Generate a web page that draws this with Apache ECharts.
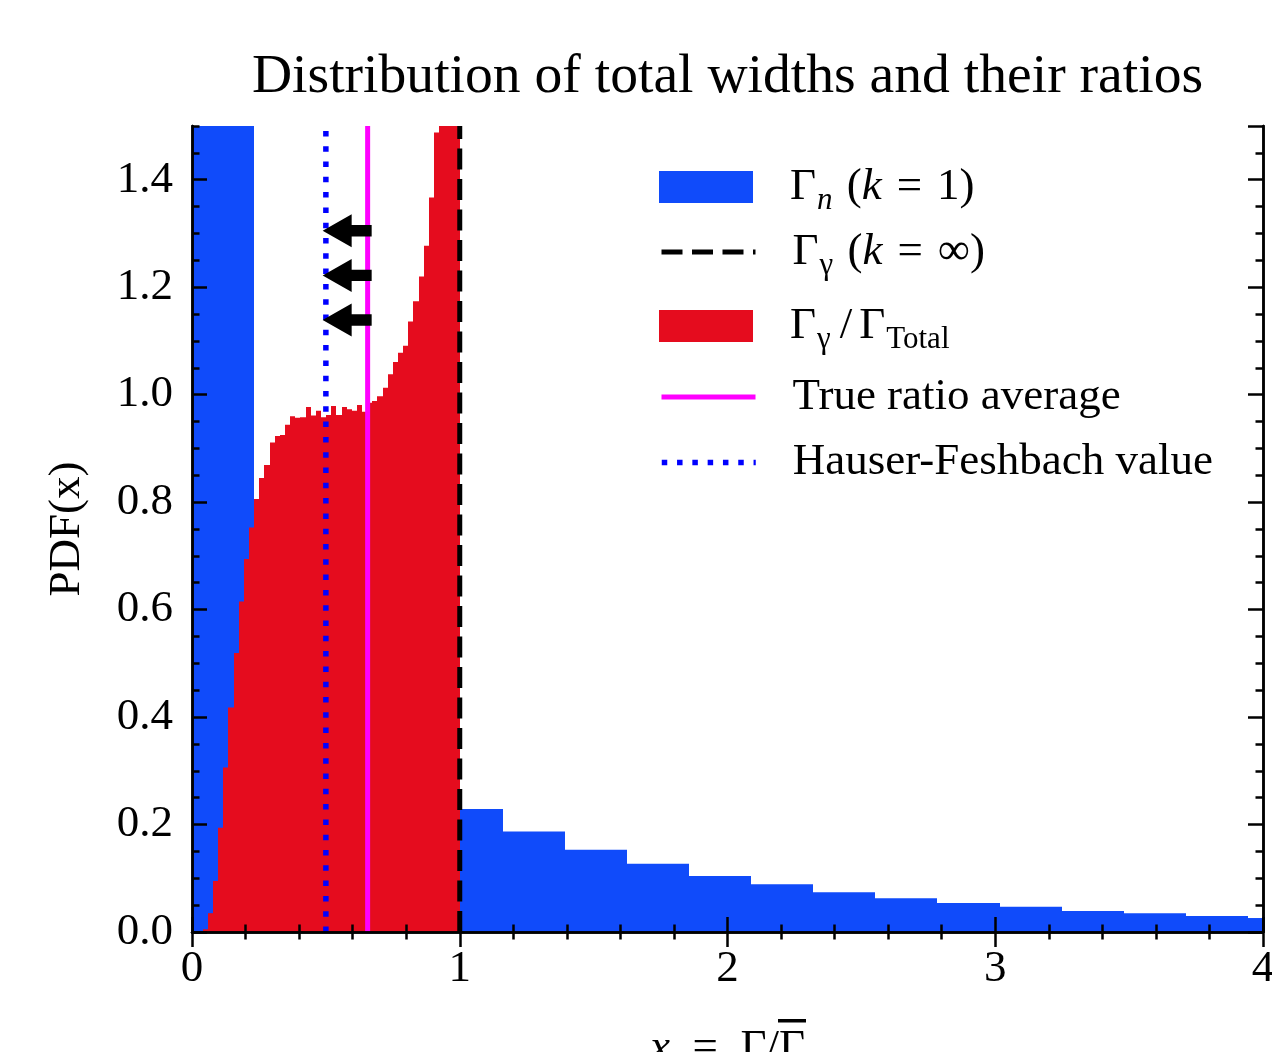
<!DOCTYPE html>
<html>
<head>
<meta charset="utf-8">
<script src="https://cdn.jsdelivr.net/npm/echarts@6/dist/echarts.min.js"></script>
<style>
  html, body { margin: 0; padding: 0; background: #fff; }
  #chart { width: 1272px; height: 1052px; }
</style>
</head>
<body>
<div id="chart"></div>
<script>
// Gamma_n (k=1): bins of 0.232 starting at 0, first bin runs off the top
const nBinWidth = 0.232;
const nHeights = [1.6, 0.58, 0.40, 0.30, 0.229, 0.187, 0.153, 0.127, 0.104, 0.089,
  0.074, 0.063, 0.054, 0.047, 0.039, 0.035, 0.030, 0.026];

// Gamma_gamma / Gamma_total: 50 bins from 0.04 to 1.0
const ratioStart = 0.04;
const ratioBinWidth = 0.0192;
const ratioHeights = [
  0.005, 0.035, 0.095, 0.194, 0.306, 0.418, 0.519, 0.615, 0.694, 0.753,
  0.806, 0.845, 0.869, 0.911, 0.923, 0.925, 0.944, 0.960, 0.957, 0.958,
  0.977, 0.961, 0.970, 0.958, 0.962, 0.979, 0.962, 0.977, 0.973, 0.970,
  0.981, 0.968, 0.985, 0.988, 0.997, 1.013, 1.038, 1.061, 1.078, 1.091,
  1.136, 1.174, 1.220, 1.277, 1.367, 1.488, 1.62, 1.80, 2.10, 2.80
];

// vertical reference lines (x positions)
const gammaLimitX = 1.0;
const trueRatioX = 0.656;
const hauserX = 0.5;

// arrows: tail x, tip x, y
const arrowTail = [0.671, 0.671, 0.671];
const arrowTip = [0.488, 0.488, 0.488];
const arrowY = [1.305, 1.222, 1.139];

const SERIF = "'Liberation Serif', 'DejaVu Serif', serif";
const BLUE = '#104bfa';
const RED = '#e50c1e';

const nBins = nHeights.map((h, i) => [i * nBinWidth, (i + 1) * nBinWidth, h]);
const ratioBins = ratioHeights.map((h, i) => [
  ratioStart + i * ratioBinWidth, ratioStart + (i + 1) * ratioBinWidth, h
]);
const arrows = arrowY.map((y, i) => [arrowTail[i], arrowTip[i], y]);

function binItem(params, api) {
  const top = api.coord([api.value(0), api.value(2)]);
  const bot = api.coord([api.value(1), 0]);
  // snap the edges so neighbouring bins share a pixel boundary (no seams)
  const x0 = Math.round(top[0]), x1 = Math.round(bot[0]);
  const shape = echarts.graphic.clipRectByRect({
    x: x0, y: top[1], width: x1 - x0, height: bot[1] - top[1]
  }, params.coordSys);
  return shape && { type: 'rect', shape: shape, style: api.style({ stroke: null }) };
}

function arrowItem(params, api) {
  const tail = api.coord([api.value(0), api.value(2)]);
  const tip = api.coord([api.value(1), api.value(2)]);
  const y = tip[1], bx = tip[0] + 29, hw = 16.5, sw = 5.7;
  return {
    type: 'polygon',
    shape: { points: [[tip[0], y], [bx, y - hw], [bx, y - sw], [tail[0], y - sw],
      [tail[0], y + sw], [bx, y + sw], [bx, y + hw]] },
    style: { fill: '#000' }
  };
}

const tickStyle = { color: '#000', width: 2.5 };
const axisLine = { show: true, lineStyle: { color: '#000', width: 2.5 } };
const labelStyle = { fontFamily: SERIF, fontSize: 45, color: '#000' };

function xAx(pos, extra) {
  return Object.assign({
    type: 'value', min: 0, max: 4, interval: 1, position: pos, z: 10,
    axisLine: axisLine,
    axisTick: { inside: true, length: 15, lineStyle: tickStyle },
    minorTick: { show: true, splitNumber: 5, length: 7.5, lineStyle: tickStyle },
    splitLine: { show: false }, minorSplitLine: { show: false },
    axisLabel: { show: false }
  }, extra);
}
function yAx(pos, interval, len, extra) {
  return Object.assign({
    type: 'value', min: 0, max: 1.5, interval: interval, position: pos, z: 10,
    axisLine: axisLine,
    axisTick: { inside: true, length: len, lineStyle: tickStyle },
    splitLine: { show: false },
    axisLabel: { show: false }
  }, extra);
}

const rich = {
  g: { width: 32, lineHeight: 40 },
  i: { fontStyle: 'italic', fontFamily: SERIF, fontSize: 45, lineHeight: 40 },
  sl: { fontFamily: SERIF, fontSize: 45, lineHeight: 40, padding: [0, 7, 0, 6] },
  sub: { fontFamily: SERIF, fontSize: 31, lineHeight: 10, padding: [18, 3, 0, 1], verticalAlign: 'top' },
  subi: { fontFamily: SERIF, fontStyle: 'italic', fontSize: 31, lineHeight: 10, padding: [18, 3, 0, 1], verticalAlign: 'top' }
};
const legendText = {
  'Gn': '{g| }Γ{subi|n} ({i|k}\u2004=\u20041)',
  'Gg': '{g| }Γ{sub|γ} ({i|k}\u2004=\u2004∞)',
  'Ratio': '{g| }Γ{sub|γ}{sl|/}Γ{sub|Total}',
  'True': '{g| }True ratio average',
  'HF': '{g| }Hauser-Feshbach value'
};

function legendFor(name, centerY, line) {
  const l = {
    data: [name], left: 659, top: centerY - 20, padding: 0,
    itemWidth: 94, itemHeight: 32, selectedMode: false,
    formatter: n => legendText[n],
    textStyle: { fontFamily: SERIF, fontSize: 45, color: '#000', lineHeight: 40, rich: rich }
  };
  if (line) {
    l.itemStyle = { opacity: 0 };
    l.lineStyle = line;
  } else {
    l.icon = 'rect';
  }
  return l;
}

const chart = echarts.init(document.getElementById('chart'), null, { renderer: 'canvas' });
chart.setOption({
  animation: false,
  backgroundColor: '#fff',
  title: {
    text: 'Distribution of total widths and their ratios',
    left: 727.5, top: 49, padding: 0, textAlign: 'center',
    textStyle: { fontFamily: SERIF, fontSize: 55.6, fontWeight: 'normal', color: '#000' }
  },
  grid: { left: 192, right: 9, top: 126, bottom: 120, containLabel: false, outerBoundsMode: 'none' },
  xAxis: [
    xAx('bottom', {
      axisLabel: { show: true, margin: 15, fontFamily: SERIF, fontSize: 45, color: '#000' },
      name: '{i|x}\u2002=\u2002Γ/Γ', nameLocation: 'middle', nameGap: 94,
      nameTextStyle: Object.assign({ rich: {
        i: { fontStyle: 'italic', fontFamily: SERIF, fontSize: 45 }
      } }, labelStyle)
    }),
    xAx('top')
  ],
  yAxis: [
    yAx('left', 0.2, 15, {
      axisLabel: { show: true, margin: 19, showMaxLabel: false, fontFamily: SERIF, fontSize: 45, color: '#000',
        formatter: v => v.toFixed(1) },
      name: 'PDF(x)', nameLocation: 'middle', nameGap: 102, nameRotate: 90,
      nameTextStyle: labelStyle
    }),
    yAx('left', 0.05, 7.5),
    yAx('right', 0.2, 15),
    yAx('right', 0.05, 7.5)
  ],
  legend: [
    legendFor('Gn', 184.5),
    legendFor('Gg', 249.5, { color: '#000', width: 5, type: [21, 9.5] }),
    legendFor('Ratio', 323.5),
    legendFor('True', 394.5, { color: '#ff00ff', width: 5, type: 'solid' }),
    legendFor('HF', 460, { color: '#0000ff', width: 5.5, type: [5.5, 9.8] })
  ],
  // overbar of the mean width symbol in the x-axis title
  graphic: [{
    type: 'rect', left: 778, top: 1019, shape: { width: 28, height: 3.5 }, style: { fill: '#000' }
  }],
  series: [
    {
      name: 'Gn', type: 'custom', renderItem: binItem, data: nBins, clip: true,
      encode: { x: [0, 1], y: 2 }, itemStyle: { color: BLUE }, z: 2, silent: true
    },
    {
      name: 'Ratio', type: 'custom', renderItem: binItem, data: ratioBins, clip: true,
      encode: { x: [0, 1], y: 2 }, itemStyle: { color: RED }, z: 3, silent: true
    },
    {
      name: 'Gg', type: 'line', data: [[gammaLimitX, 0], [gammaLimitX, 1.5]], symbol: 'none',
      lineStyle: { color: '#000', width: 5, type: [21, 9.5] }, itemStyle: { color: '#000' }, z: 4, silent: true
    },
    {
      name: 'True', type: 'line', data: [[trueRatioX, 0], [trueRatioX, 1.5]], symbol: 'none',
      lineStyle: { color: '#ff00ff', width: 5 }, itemStyle: { color: '#ff00ff' }, z: 4, silent: true
    },
    {
      name: 'HF', type: 'line', data: [[hauserX, 0], [hauserX, 1.5]], symbol: 'none',
      lineStyle: { color: '#0000ff', width: 5.5, type: [5.5, 9.8] }, itemStyle: { color: '#0000ff' }, z: 4, silent: true
    },
    {
      name: 'arrows', type: 'custom', renderItem: arrowItem, data: arrows,
      encode: { x: [0, 1], y: 2 }, z: 5, silent: true
    }
  ]
});
</script>
</body>
</html>
